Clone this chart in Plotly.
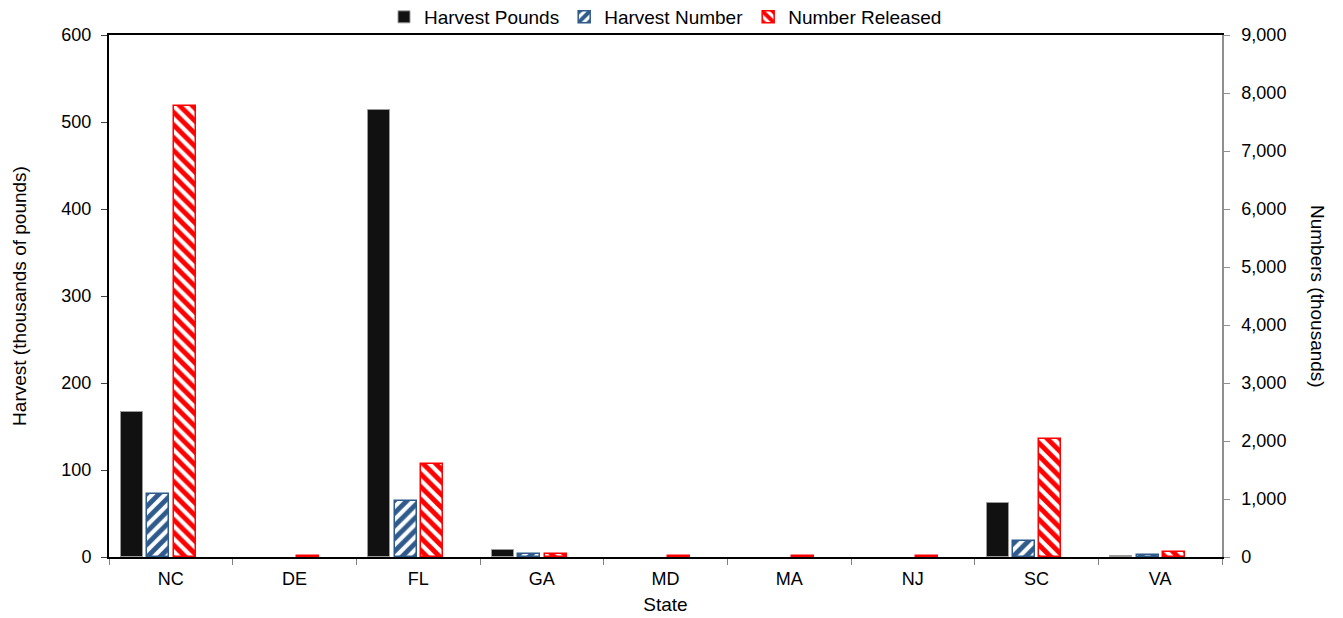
import plotly.graph_objects as go

states = ["NC", "DE", "FL", "GA", "MD", "MA", "NJ", "SC", "VA"]
harvest_pounds = [167, None, 514, 8, None, None, None, 62, 1.5]          # thousands of pounds (left axis)
harvest_number = [1086, None, 966, 50, None, None, None, 282, 34]        # thousands (right axis)
number_released = [7776, 25, 1603, 52, 25, 25, 25, 2040, 86]            # thousands (right axis)

FONT = "Liberation Sans, Arial, sans-serif"
W = 0.178

fig = go.Figure()
fig.add_trace(go.Bar(
    x=states, y=harvest_pounds, name="Harvest Pounds", yaxis="y",
    width=W, offset=-0.403,
    marker=dict(color="#111111", line=dict(color="#9a9a9a", width=1)),
))
fig.add_trace(go.Bar(
    x=states, y=harvest_number, name="Harvest Number", yaxis="y2",
    width=W, offset=-0.19,
    marker=dict(color="white", line=dict(color="#2f5b8c", width=1.5),
                pattern=dict(shape="/", fgcolor="#2f5b8c", bgcolor="white",
                             fgopacity=1, size=9, solidity=0.55)),
))
fig.add_trace(go.Bar(
    x=states, y=number_released, name="Number Released", yaxis="y2",
    width=W, offset=0.022,
    marker=dict(color="white", line=dict(color="#ff0000", width=1.5),
                pattern=dict(shape="\\", fgcolor="#ff0000", bgcolor="white",
                             fgopacity=1, size=9, solidity=0.55)),
))

fig.update_layout(
    width=1335, height=610,
    margin=dict(l=101, r=121, t=27, b=61, autoexpand=False),
    paper_bgcolor="white", plot_bgcolor="white",
    font=dict(family=FONT, size=18, color="black"),
    showlegend=True,
    legend=dict(orientation="h", x=0.5, xanchor="center", y=1.0345, yanchor="middle",
                font=dict(size=19), itemwidth=30, tracegroupgap=0,
                bgcolor="rgba(0,0,0,0)"),
    xaxis=dict(
        type="category", showline=True, linecolor="black", linewidth=2,
        mirror=True, ticks="outside", tickson="boundaries", tickcolor="#808080",
        ticklen=6, showgrid=False, ticklabelstandoff=4,
        title=dict(text="State", font=dict(size=19), standoff=10),
        tickfont=dict(size=18),
    ),
    yaxis=dict(
        range=[0, 600], dtick=100, showline=True, linecolor="black", linewidth=2,
        ticks="outside", tickcolor="#404040", ticklen=6, showgrid=False, zeroline=False,
        ticklabelstandoff=6,
        title=dict(text="Harvest (thousands of pounds)", font=dict(size=19), standoff=30),
        tickfont=dict(size=18),
    ),
    yaxis2=dict(
        range=[0, 9000], dtick=1000, overlaying="y", side="right",
        showline=True, linecolor="#909090", linewidth=1.5,
        ticks="outside", tickcolor="#909090", ticklen=6, showgrid=False, zeroline=False,
        tickformat=",", tickfont=dict(size=18), ticklabelstandoff=8,
    ),
    annotations=[dict(
        text="Numbers (thousands)", textangle=90, xref="paper", yref="paper",
        x=1.0, xshift=96, y=0.5, showarrow=False, font=dict(size=19),
        xanchor="center", yanchor="middle",
    )],
    bargap=0, bargroupgap=0,
)

fig.write_html("out.html")
